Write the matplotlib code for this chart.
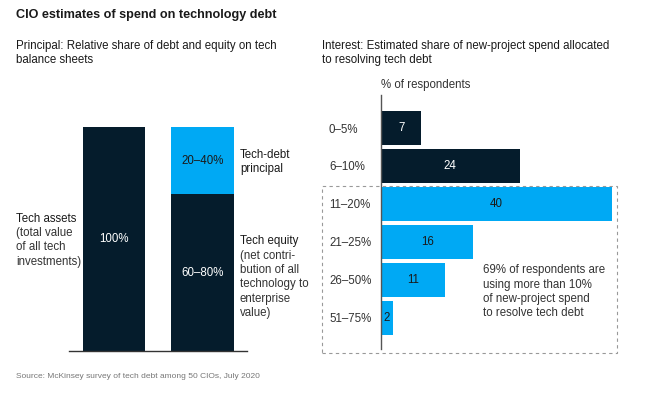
import matplotlib
matplotlib.use("Agg")
import matplotlib.pyplot as plt
from matplotlib.patches import Rectangle

W, H = 665, 395
NAVY = "#051C2C"
BLUE = "#00A9F4"
TXT = "#1a1a1a"
GREY = "#333333"

# left: principal (stacked share, %)
assets = [100]
equity = 70
debt = 30
assets_label = "100%"
equity_label = "60–80%"
debt_label = "20–40%"

# right: interest (% of respondents)
ranges = ["0–5%", "6–10%", "11–20%", "21–25%", "26–50%", "51–75%"]
respondents = [7, 24, 40, 16, 11, 2]
highlight = [False, False, True, True, True, True]

plt.rcParams["font.family"] = ["Liberation Sans", "DejaVu Sans"]


def fx(px):
    return px / W


def fy(py):
    return 1 - py / H


fig = plt.figure(figsize=(W / 100, H / 100), dpi=100)

# headings
fig.text(fx(16), fy(15), "CIO estimates of spend on technology debt",
         fontsize=9.1, fontweight="bold", color=TXT, va="center")
fig.text(fx(16), fy(40), "Principal: Relative share of debt and equity on tech\nbalance sheets",
         fontsize=8.3, color=TXT, va="top", linespacing=1.25)
fig.text(fx(322), fy(40), "Interest: Estimated share of new-project spend allocated\nto resolving tech debt",
         fontsize=8.3, color=TXT, va="top", linespacing=1.25)
fig.text(fx(16), fy(377), "Source: McKinsey survey of tech debt among 50 CIOs, July 2020",
         fontsize=6, color="#777777", va="center")

# ---- left chart
ax1 = fig.add_axes([fx(69), fy(351), fx(247 - 69), (351 - 127) / H])
ax1.bar([0], assets, width=0.70, color=NAVY)
ax1.bar([1], [equity], width=0.71, color=NAVY)
ax1.bar([1], [debt], bottom=[equity], width=0.71, color=BLUE)
ax1.set_xlim(-0.508, 1.503)
ax1.set_ylim(0, 100)
for s in ["top", "right", "left"]:
    ax1.spines[s].set_visible(False)
ax1.spines["bottom"].set_color(GREY)
ax1.spines["bottom"].set_linewidth(1.0)
ax1.set_xticks([])
ax1.set_yticks([])
ax1.text(0, 50, assets_label, color="white", ha="center", va="center", fontsize=8.3)
ax1.text(1, equity / 2, equity_label, color="white", ha="center", va="center", fontsize=8.3)
ax1.text(1, equity + debt / 2, debt_label, color=TXT, ha="center", va="center", fontsize=8.3)

fig.text(fx(16), fy(213), "Tech assets", fontsize=8.3, color=TXT, va="top")
fig.text(fx(16), fy(227), "(total value\nof all tech\ninvestments)", fontsize=8.3,
         color=GREY, va="top", linespacing=1.25)
fig.text(fx(240), fy(148.5), "Tech-debt\nprincipal", fontsize=8.3, color=TXT, va="top",
         linespacing=1.25)
fig.text(fx(240), fy(234.5), "Tech equity", fontsize=8.3, color=TXT, va="top")
fig.text(fx(240), fy(250), "(net contri-\nbution of all\ntechnology to\nenterprise\nvalue)",
         fontsize=8.3, color=GREY, va="top", linespacing=1.25)

# ---- right chart
ax2 = fig.add_axes([fx(381), fy(349), fx(612 - 381), (349 - 95) / H])
ypos = list(range(len(ranges)))
colors = [BLUE if h else NAVY for h in highlight]
ax2.barh(ypos, respondents, height=0.89, color=colors)
ax2.set_xlim(0, 40)
ax2.set_ylim(5.82, -0.87)
for s in ["top", "right", "bottom"]:
    ax2.spines[s].set_visible(False)
ax2.spines["left"].set_color("#555555")
ax2.spines["left"].set_linewidth(1.0)
ax2.set_xticks([])
ax2.set_yticks(ypos)
ax2.set_yticklabels(ranges)
ax2.tick_params(axis="y", length=0, pad=52 * 0.72, labelsize=8.3, labelcolor=GREY)
for lbl in ax2.get_yticklabels():
    lbl.set_ha("left")
for y, v, h in zip(ypos, respondents, highlight):
    ax2.text(v / 2, y, str(v), ha="center", va="center", fontsize=8.3,
             color=TXT if h else "white")

fig.text(fx(381), fy(85), "% of respondents", fontsize=8.3, color=GREY, va="center")
fig.text(fx(483), fy(264.5), "69% of respondents are\nusing more than 10%\nof new-project spend\nto resolve tech debt",
         fontsize=8.3, color=GREY, va="top", linespacing=1.25)

fig.patches.append(Rectangle((fx(322), fy(353)), fx(617 - 322), (353 - 186) / H,
                             transform=fig.transFigure, fill=False, ls=(0, (3, 3)),
                             lw=0.8, edgecolor="#999999"))

fig.savefig("out.png", dpi=100)
